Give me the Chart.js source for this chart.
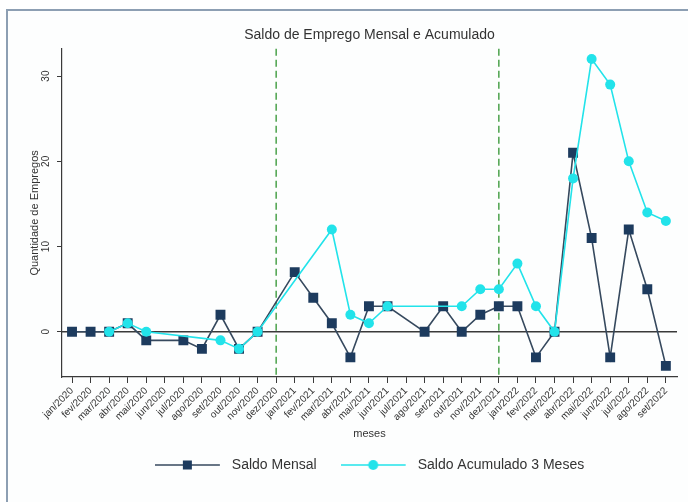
<!DOCTYPE html>
<html>
<head>
<meta charset="utf-8">
<script src="https://cdn.jsdelivr.net/npm/chart.js@4.4.1/dist/chart.umd.min.js"></script>
<style>
  html, body { margin: 0; padding: 0; background: #fff; }
  #wrap { position: relative; width: 688px; height: 502px; overflow: hidden; }
  #frame { position: absolute; left: 6px; top: 9px; width: 800px; height: 600px;
           border: 2px solid #8d9fb3; background: #fdfefe; }
  canvas { position: absolute; left: 0; top: 0; }
</style>
</head>
<body>
<div id="wrap">
  <div id="frame"></div>
  <canvas id="grafico" width="688" height="502"></canvas>
</div>
<script>
// ── Dados ─────────────────────────────────────────────
const MESES = ['jan','fev','mar','abr','mai','jun','jul','ago','set','out','nov','dez'];
const ANOS = [2020, 2021, 2022];
const ULTIMO_MES = 'set/2022';

const rotulos = [];
ANOS.forEach(a => MESES.forEach(m => rotulos.push(`${m}/${a}`)));
rotulos.length = rotulos.indexOf(ULTIMO_MES) + 1;

const saldoMensal = [0, 0, 0, 1, -1, null, -1, -2, 2, -2, 0, null,
                     7, 4, 1, -3, 3, 3, null, 0, 3, 0, 2, 3,
                     3, -3, 0, 21, 11, -3, 12, 5, -4];
const saldoAcum3  = [null, null, 0, 1, 0, null, null, null, -1, -2, 0, null,
                     null, null, 12, 2, 1, 3, null, null, null, 3, 5, 5,
                     8, 3, 0, 18, 32, 29, 20, 14, 13];

const ticksY = [0, 10, 20, 30];
const marcos = ['dez/2020', 'dez/2021'];

// ── Estilo ────────────────────────────────────────────
const FONTE = '"Liberation Sans", Arial, Helvetica, sans-serif';
const COR = {
  mensalLinha: '#36495e', mensalPonto: '#1d3b5e',
  acumLinha: '#22e3ea', acumPonto: '#22e3ea',
  texto: '#333333', eixo: '#3a3a3a', marco: '#3f9b3f'
};

const toPoints = arr => arr.map((v, i) => ({ x: i, y: v }));

// amostra da legenda: linha com o marcador no meio
function amostra(cor, corPonto, tipo) {
  const c = document.createElement('canvas');
  c.width = 70; c.height = 14;
  const g = c.getContext('2d');
  g.strokeStyle = cor; g.lineWidth = 1.5;
  g.beginPath(); g.moveTo(0, 7); g.lineTo(65, 7); g.stroke();
  g.fillStyle = corPonto;
  if (tipo === 'rect') g.fillRect(32.5 - 4.5, 2.5, 9, 9);
  else { g.beginPath(); g.arc(32.5, 7, 5, 0, Math.PI * 2); g.fill(); }
  return c;
}

// linha do zero, marcos verticais e rótulos do eixo y
const decoracao = {
  id: 'decoracao',
  beforeDatasetsDraw(chart) {
    const { ctx, chartArea: a, scales: { x, y } } = chart;
    ctx.save();
    const y0 = y.getPixelForValue(0);
    ctx.strokeStyle = COR.eixo; ctx.lineWidth = 1.6;
    ctx.beginPath(); ctx.moveTo(a.left, y0); ctx.lineTo(a.right, y0); ctx.stroke();

    ctx.strokeStyle = COR.marco; ctx.lineWidth = 1.4;
    ctx.setLineDash([7, 4]);
    marcos.forEach(m => {
      const px = x.getPixelForValue(rotulos.indexOf(m));
      ctx.beginPath(); ctx.moveTo(px, a.top); ctx.lineTo(px, a.bottom); ctx.stroke();
    });
    ctx.restore();
  },
  afterDraw(chart) {
    const { ctx, scales: { y } } = chart;
    ctx.save();
    ctx.fillStyle = COR.texto;
    ctx.font = `10px ${FONTE}`;
    ctx.textAlign = 'center';
    ctx.textBaseline = 'middle';
    ticksY.forEach(v => {
      ctx.save();
      ctx.translate(y.right - 16, y.getPixelForValue(v));
      ctx.rotate(-Math.PI / 2);
      ctx.fillText(String(v), 0, 0);
      ctx.restore();
    });
    ctx.restore();
  }
};

const amostras = [
  amostra(COR.mensalLinha, COR.mensalPonto, 'rect'),
  amostra(COR.acumLinha, COR.acumPonto, 'circle')
];

new Chart(document.getElementById('grafico'), {
  type: 'line',
  data: {
    datasets: [
      {
        label: 'Saldo Mensal',
        data: toPoints(saldoMensal),
        borderColor: COR.mensalLinha, borderWidth: 1.6,
        pointStyle: 'rect', pointRadius: 7, pointHoverRadius: 7,
        pointBackgroundColor: COR.mensalPonto, pointBorderColor: COR.mensalPonto,
        pointBorderWidth: 0, spanGaps: true, tension: 0, order: 2
      },
      {
        label: 'Saldo Acumulado 3 Meses',
        data: toPoints(saldoAcum3),
        borderColor: COR.acumLinha, borderWidth: 1.6,
        pointStyle: 'circle', pointRadius: 5, pointHoverRadius: 5,
        pointBackgroundColor: COR.acumPonto, pointBorderColor: COR.acumPonto,
        pointBorderWidth: 0, spanGaps: true, tension: 0, order: 1
      }
    ]
  },
  options: {
    responsive: false,
    animation: false,
    events: [],
    layout: { padding: { left: 0, right: 11, top: 0, bottom: 20 } },
    plugins: {
      tooltip: { enabled: false },
      title: {
        display: true, fullSize: false,
        text: 'Saldo de Emprego Mensal e Acumulado',
        color: COR.texto,
        font: { family: FONTE, size: 14, weight: 'normal' },
        padding: { top: 27, bottom: 5 }
      },
      legend: {
        position: 'bottom', fullSize: false,
        labels: {
          usePointStyle: true, pointStyleWidth: 70, boxHeight: 13,
          padding: 24, color: COR.texto,
          font: { family: FONTE, size: 14 },
          generateLabels: chart => chart.data.datasets.map((ds, i) => ({
            text: ds.label, pointStyle: amostras[i], datasetIndex: i,
            hidden: false, lineWidth: 0, fontColor: COR.texto
          }))
        }
      }
    },
    scales: {
      x: {
        type: 'linear', min: -0.54, max: 32.6,
        afterFit: s => { s.height = 57; },
        afterBuildTicks: s => { s.ticks = rotulos.map((_, i) => ({ value: i })); },
        ticks: {
          autoSkip: false, minRotation: 45, maxRotation: 45, padding: 2,
          color: COR.texto, font: { family: FONTE, size: 10 },
          callback: v => rotulos[v]
        },
        grid: { display: true, drawOnChartArea: false, drawTicks: true, tickLength: 6, color: COR.eixo },
        border: { display: true, color: COR.eixo, width: 1.2 },
        title: {
          display: true, text: 'meses', color: COR.texto,
          font: { family: FONTE, size: 11 }, padding: { top: 0, bottom: -7 }
        }
      },
      y: {
        min: -5.3, max: 33.2,
        afterFit: s => { s.width = 62; },
        afterBuildTicks: s => { s.ticks = ticksY.map(v => ({ value: v })); },
        ticks: { display: false },
        grid: { display: true, drawOnChartArea: false, drawTicks: true, tickLength: 5, color: COR.eixo },
        border: { display: true, color: COR.eixo, width: 1.2 },
        title: {
          display: true, text: 'Quantidade de Empregos', color: COR.texto,
          font: { family: FONTE, size: 11 }, padding: { top: 28, bottom: 0 }
        }
      }
    }
  },
  plugins: [decoracao]
});
</script>
</body>
</html>
